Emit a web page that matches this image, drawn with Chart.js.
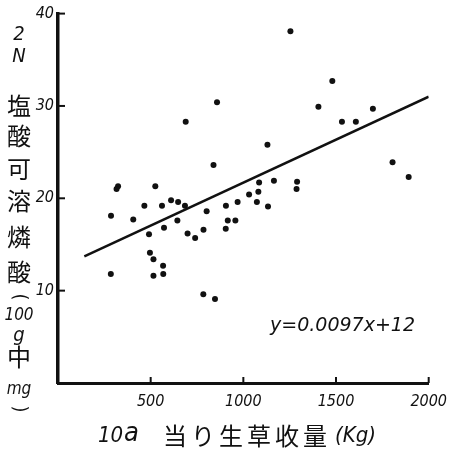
<!DOCTYPE html>
<html>
<head>
<meta charset="utf-8">
<script src="https://cdn.jsdelivr.net/npm/chart.js@4.4.0/dist/chart.umd.min.js"></script>
<style>
body{margin:0;background:#fff}
#wrap{width:456px;height:454px;position:relative}
</style>
</head>
<body>
<div id="wrap"><canvas id="grafico"></canvas></div>
<script>
// ---- DATOS ----
const cosecha = [1254,1480,1405,1699,1532,1607,858,689,1130,1805,1892,839,324,316,525,1165,1085,1290,1287,1081,1031,
  610,648,969,1073,466,561,685,906,1133,802,286,406,644,916,957,572,785,905,491,699,740,496,515,567,285,515,568,784,847]
const fosfato = [38.1,32.7,29.9,29.7,28.3,28.3,30.4,28.3,25.8,23.9,22.3,23.6,21.3,21.0,21.3,21.9,21.7,21.8,21.0,20.7,20.4,
  19.8,19.6,19.6,19.6,19.2,19.2,19.2,19.2,19.1,18.6,18.1,17.7,17.6,17.6,17.6,16.8,16.6,16.7,16.1,16.2,15.7,14.1,13.4,12.7,11.8,11.6,11.8,9.6,9.1]
const rectaX = [142, 2000]
const rectaY = [13.7, 31.0]
const ticksX = [500, 1000, 1500, 2000]
const ticksY = [10, 20, 30, 40]
const tituloY = ['2','N','塩','酸','可','溶','燐','酸','(','100','g','中','mg',')']
const tituloX = ['10', 'a', '当り生草收量', '(Kg)']
const ecuacion = 'y=0.0097x+12'

const latina = "'DejaVu Sans Condensed','DejaVu Sans',sans-serif"
const kanji = "'Noto Sans CJK JP',sans-serif"

// ---- TEXTOS Y MARCAS INTERIORES ----
const textos = {
  id: 'textos',
  afterDraw(chart){
    const ctx = chart.ctx
    const sx = chart.scales.x
    const sy = chart.scales.y
    ctx.save()
    ctx.fillStyle = '#111'
    ctx.strokeStyle = '#111'
    ctx.lineWidth = 2

    // marcas hacia dentro
    ticksY.forEach(v => {
      const p = sy.getPixelForValue(v)
      ctx.beginPath(); ctx.moveTo(sx.left, p); ctx.lineTo(sx.left + 7, p); ctx.stroke()
    })
    ticksX.forEach(v => {
      const p = sx.getPixelForValue(v)
      ctx.beginPath(); ctx.moveTo(p, sy.bottom); ctx.lineTo(p, sy.bottom - 6); ctx.stroke()
    })

    // título vertical
    const posY = [35,57,106,136,169,201,237,272,297,316,336,357,390,409]
    ctx.textAlign = 'center'
    ctx.textBaseline = 'middle'
    tituloY.forEach((t, i) => {
      ctx.save()
      ctx.translate(19, posY[i])
      if (/[\u3000-\u9fff]/.test(t)) {
        ctx.font = '24px ' + kanji
      } else if (t == '(' || t == ')') {
        ctx.rotate(Math.PI / 2)
        ctx.font = '20px ' + latina
      } else if (t.length > 1) {
        ctx.font = 'italic 17px ' + latina
      } else {
        ctx.font = 'italic 20px ' + latina
      }
      ctx.fillText(t, 0, 0)
      ctx.restore()
    })

    // título del eje x
    ctx.textAlign = 'left'
    ctx.font = 'italic 22px ' + latina
    ctx.fillText(tituloX[0], 98, 436)
    ctx.font = 'italic 27px ' + latina
    ctx.fillText(tituloX[1], 124, 434)
    ctx.font = '24px ' + kanji
    ctx.letterSpacing = '4px'
    ctx.fillText(tituloX[2], 163, 436)
    ctx.letterSpacing = '0px'
    ctx.font = 'italic 22px ' + latina
    ctx.fillText(tituloX[3], 335, 436)

    // ecuación
    ctx.font = 'italic 19px ' + latina
    const w = ctx.measureText(ecuacion).width
    ctx.translate(270, 326)
    ctx.scale(145 / w, 1)
    ctx.fillText(ecuacion, 0, 0)
    ctx.restore()
  }
}

// ---- GRÁFICO ----
const puntos = cosecha.map((x, i) => ({x: x, y: fosfato[i]}))
const recta = rectaX.map((x, i) => ({x: x, y: rectaY[i]}))

new Chart(document.querySelector('#grafico'), {
  type: 'scatter',
  data: {
    datasets: [
      {data: puntos, backgroundColor: '#111', borderWidth: 0, pointRadius: 3},
      {data: recta, showLine: true, borderColor: '#111', borderWidth: 2.5, pointRadius: 0}
    ]
  },
  options: {
    responsive: true,
    maintainAspectRatio: false,
    animation: false,
    layout: {padding: {top: 11, right: 22, left: 0, bottom: 0}},
    plugins: {legend: {display: false}, tooltip: {enabled: false}},
    scales: {
      x: {
        type: 'linear', min: 0, max: 2000,
        afterFit: s => { s.height = 71 },
        afterBuildTicks: s => { s.ticks = ticksX.map(v => ({value: v})) },
        grid: {display: false, drawTicks: false},
        border: {display: true, color: '#111', width: 3},
        ticks: {color: '#111', padding: 9, maxRotation: 0, callback: v => String(v),
          font: {family: latina, size: 16, style: 'italic'}}
      },
      y: {
        type: 'linear', min: 0, max: 40,
        afterFit: s => { s.width = 58 },
        afterBuildTicks: s => { s.ticks = ticksY.map(v => ({value: v})) },
        grid: {display: false, drawTicks: false},
        border: {display: true, color: '#111', width: 3.5},
        ticks: {color: '#111', padding: 4, callback: v => String(v),
          font: {family: latina, size: 16, style: 'italic'}}
      }
    }
  },
  plugins: [textos]
})
</script>
</body>
</html>
